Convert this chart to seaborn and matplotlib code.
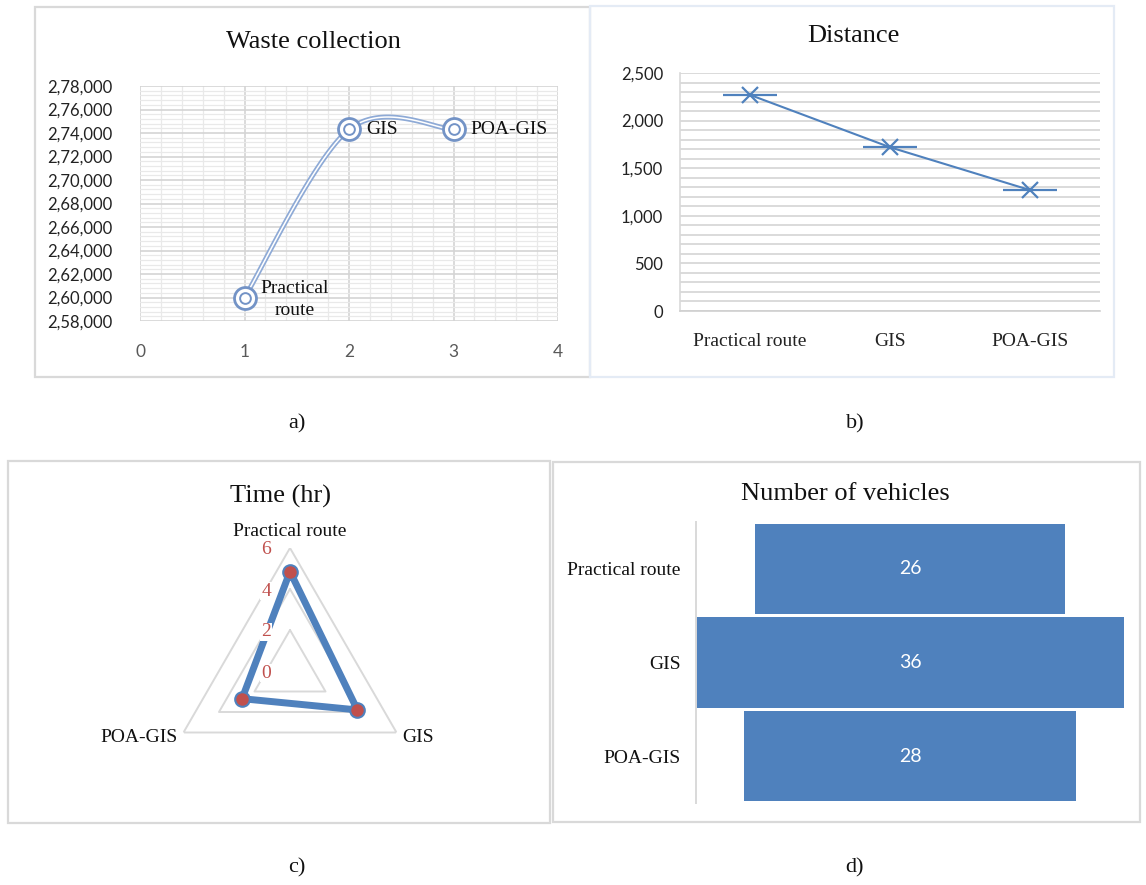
import numpy as np
import pandas as pd
import matplotlib
matplotlib.use("Agg")
import matplotlib.pyplot as plt
from matplotlib.patches import Rectangle
from matplotlib.ticker import MultipleLocator, FuncFormatter
import seaborn as sns

# ---------------- data ----------------
methods = ["Practical route", "GIS", "POA-GIS"]
waste_x = [1, 2, 3]
waste_vals = [260000, 274300, 274300]
waste_labels = ["Practical\nroute", "GIS", "POA-GIS"]
distance_vals = [2270, 1720, 1270]
time_vals = [4.85, 3.8, 2.7]
vehicle_vals = [26, 36, 28]
captions = ["a)", "b)", "c)", "d)"]

sns.set_theme(style="white")
SERIF = "Liberation Serif"
SANS = "Lato"
plt.rcParams["font.family"] = [SERIF, "DejaVu Sans"]

W, H = 1146, 885
fig = plt.figure(figsize=(W / 100, H / 100), dpi=100)
fig.patch.set_facecolor("white")


def fbox(x0, y0, x1, y1):
    """pixel box (top-left origin) -> figure fraction rect"""
    return [x0 / W, 1 - y1 / H, (x1 - x0) / W, (y1 - y0) / H]


def border(x0, y0, x1, y1, color):
    fig.add_artist(Rectangle((x0 / W, 1 - y1 / H), (x1 - x0) / W, (y1 - y0) / H,
                             transform=fig.transFigure, fill=False,
                             edgecolor=color, linewidth=1.6))


BLUE = "#4f81bd"
RED = "#c0504d"

# ---------------- a) Waste collection ----------------
border(35, 7, 590, 377, "#d9d9d9")
axa = fig.add_axes(fbox(140, 86, 558, 321))
axa.set_xlim(0, 4)
axa.set_ylim(258000, 278000)
axa.xaxis.set_major_locator(MultipleLocator(1))
axa.xaxis.set_minor_locator(MultipleLocator(0.2))
axa.yaxis.set_major_locator(MultipleLocator(2000))
axa.yaxis.set_minor_locator(MultipleLocator(400))
axa.grid(which="major", color="#d4d4d4", linewidth=1.2)
axa.grid(which="minor", color="#e9e9e9", linewidth=0.9)
axa.set_axisbelow(True)
for s in axa.spines.values():
    s.set_visible(False)


def indian(v, pos=None):
    s = str(int(round(v)))
    last3, rest = s[-3:], s[:-3]
    groups = []
    while len(rest) > 2:
        groups.insert(0, rest[-2:])
        rest = rest[:-2]
    if rest:
        groups.insert(0, rest)
    return ",".join(groups + [last3])


axa.yaxis.set_major_formatter(FuncFormatter(indian))
axa.tick_params(axis="both", which="both", length=0)
axa.tick_params(axis="y", pad=19.5, labelsize=12, labelcolor="#222222")
axa.tick_params(axis="x", pad=16.5, labelsize=12.5, labelcolor="#595959")
for lab in axa.get_xticklabels() + axa.get_yticklabels():
    lab.set_fontfamily(SANS)

# Excel-style smoothed curve (Bezier with Catmull-Rom control points)
px = np.array(waste_x, float)
py = np.array(waste_vals, float)
n = len(px)
cx, cy = [], []
for i in range(n - 1):
    p0 = (px[max(i - 1, 0)], py[max(i - 1, 0)])
    p1 = (px[i], py[i])
    p2 = (px[i + 1], py[i + 1])
    p3 = (px[min(i + 2, n - 1)], py[min(i + 2, n - 1)])
    c1 = (p1[0] + (p2[0] - p0[0]) / 6, p1[1] + (p2[1] - p0[1]) / 6)
    c2 = (p2[0] - (p3[0] - p1[0]) / 6, p2[1] - (p3[1] - p1[1]) / 6)
    t = np.linspace(0, 1, 60)
    bx = (1 - t) ** 3 * p1[0] + 3 * (1 - t) ** 2 * t * c1[0] + 3 * (1 - t) * t ** 2 * c2[0] + t ** 3 * p2[0]
    by = (1 - t) ** 3 * p1[1] + 3 * (1 - t) ** 2 * t * c1[1] + 3 * (1 - t) * t ** 2 * c2[1] + t ** 3 * p2[1]
    cx.extend(bx)
    cy.extend(by)
curve = pd.DataFrame({"x": cx, "y": cy})
sns.lineplot(data=curve, x="x", y="y", ax=axa, color="#8eaad6", linewidth=3.6,
             sort=False, estimator=None)
sns.lineplot(data=curve, x="x", y="y", ax=axa, color="white", linewidth=1.1,
             sort=False, estimator=None)
dfa = pd.DataFrame({"x": waste_x, "y": waste_vals})
sns.scatterplot(data=dfa, x="x", y="y", ax=axa, s=250, facecolor="white",
                edgecolor="#7393c6", linewidth=2.0, zorder=5)
sns.scatterplot(data=dfa, x="x", y="y", ax=axa, s=60, facecolor="white",
                edgecolor="#7393c6", linewidth=1.4, zorder=6)
for xv, yv, lab in zip(waste_x, waste_vals, waste_labels):
    if "\n" in lab:
        axa.annotate(lab, (xv, yv), xytext=(16, -2), textcoords="offset pixels",
                     ha="left", va="center", fontsize=14, family=SERIF,
                     color="#111111", linespacing=1.4, multialignment="center")
    else:
        axa.annotate(lab, (xv, yv), xytext=(17, 0), textcoords="offset pixels",
                     ha="left", va="center", fontsize=14, family=SERIF, color="#111111")
axa.set_xlabel("")
axa.set_ylabel("")
fig.text(313 / W, 1 - 42 / H, "Waste collection", ha="center", va="center",
         fontsize=19, family=SERIF, color="#111111")

# ---------------- b) Distance ----------------
border(590, 6, 1114, 377, "#e4ebf5")
axb = fig.add_axes(fbox(680, 73, 1100, 311))
dfb = pd.DataFrame({"pos": np.arange(len(methods)), "dist": distance_vals})
axb.set_ylim(0, 2500)
axb.set_xlim(-0.5, len(methods) - 0.5)
axb.yaxis.set_major_locator(MultipleLocator(500))
axb.yaxis.set_minor_locator(MultipleLocator(100))
axb.grid(axis="y", which="both", color="#d4d4d4", linewidth=1.2)
axb.grid(axis="x", which="both", visible=False)
axb.set_axisbelow(True)
sns.lineplot(data=dfb, x="pos", y="dist", ax=axb, color=BLUE, linewidth=1.5,
             marker="x", markersize=12, markeredgewidth=1.6, markeredgecolor=BLUE)
sns.scatterplot(data=dfb, x="pos", y="dist", ax=axb, marker="_", s=1500,
                color=BLUE, linewidth=1.6, zorder=5)
axb.set_xticks(dfb["pos"])
axb.set_xticklabels(methods)
axb.yaxis.set_major_formatter(FuncFormatter(lambda v, p: f"{int(v):,}"))
for k in ["top", "right"]:
    axb.spines[k].set_visible(False)
axb.spines["left"].set_color("#d9d9d9")
axb.spines["bottom"].set_color("#d0d0d0")
axb.spines["left"].set_linewidth(1.2)
axb.spines["bottom"].set_linewidth(1.2)
axb.tick_params(axis="both", which="both", length=0)
axb.tick_params(axis="y", pad=12, labelsize=12, labelcolor="#222222")
axb.tick_params(axis="x", pad=16, labelsize=14, labelcolor="#222222")
for lab in axb.get_yticklabels():
    lab.set_fontfamily(SANS)
for lab in axb.get_xticklabels():
    lab.set_fontfamily(SERIF)
axb.set_xlabel("")
axb.set_ylabel("")
fig.text(853 / W, 1 - 36 / H, "Distance", ha="center", va="center",
         fontsize=19, family=SERIF, color="#111111")

# ---------------- c) Time (hr) radar ----------------
border(8, 461, 550, 823, "#d9d9d9")
R = 123
cxp, cyp = 290, 671
axc = fig.add_axes(fbox(cxp - R, cyp - R, cxp + R, cyp + R), projection="polar")
axc.set_theta_offset(np.pi / 2)
axc.set_theta_direction(-1)
axc.set_ylim(0, 6)
axc.grid(False)
axc.spines["polar"].set_visible(False)
axc.set_xticks([])
axc.set_yticks([])
axc.patch.set_alpha(0)
angles = np.linspace(0, 2 * np.pi, len(methods), endpoint=False)
ang_closed = np.concatenate([angles, angles[:1]])
for r in [2, 4, 6]:
    axc.plot(ang_closed, [r] * len(ang_closed), color="#d9d9d9", linewidth=1.4, zorder=1)
tv = np.array(time_vals + time_vals[:1])
axc.plot(ang_closed, tv, color=BLUE, linewidth=5, zorder=3, solid_joinstyle="round")
axc.plot(angles, time_vals, linestyle="none", marker="o", markersize=10.5,
         markerfacecolor=RED, markeredgecolor=BLUE, markeredgewidth=1.5, zorder=4)
for r in [0, 2, 4, 6]:
    axc.annotate(str(r), (0, r), xytext=(-24, -2), textcoords="offset pixels",
                 ha="center", va="center", fontsize=14, family=SERIF, color=RED,
                 bbox=dict(boxstyle="square,pad=0.05", fc="white", ec="none"), zorder=5,
                 annotation_clip=False)
# category labels
axc.annotate(methods[0], (angles[0], 6), xytext=(0, 8), textcoords="offset pixels",
             ha="center", va="bottom", fontsize=14, family=SERIF, color="#111111",
             annotation_clip=False)
axc.annotate(methods[1], (angles[1], 6), xytext=(6, -5), textcoords="offset pixels",
             ha="left", va="center", fontsize=14, family=SERIF, color="#111111",
             annotation_clip=False)
axc.annotate(methods[2], (angles[2], 6), xytext=(-6, -5), textcoords="offset pixels",
             ha="right", va="center", fontsize=14, family=SERIF, color="#111111",
             annotation_clip=False)
fig.text(280 / W, 1 - 496 / H, "Time (hr)", ha="center", va="center",
         fontsize=19, family=SERIF, color="#111111")

# ---------------- d) Number of vehicles (funnel) ----------------
border(553, 462, 1140, 822, "#d9d9d9")
axd = fig.add_axes(fbox(696, 522, 1124, 803))
ypos = np.arange(len(methods))
vals = np.array(vehicle_vals, float)
axd.barh(ypos, vals, left=-vals / 2, height=0.965, color=BLUE, edgecolor="none")
axd.set_xlim(-max(vals) / 2, max(vals) / 2)
axd.set_ylim(len(methods) - 0.5, -0.5)
axd.set_yticks(ypos)
axd.set_yticklabels(methods)
axd.xaxis.set_visible(False)
for k in ["top", "right", "bottom"]:
    axd.spines[k].set_visible(False)
axd.spines["left"].set_color("#d9d9d9")
axd.spines["left"].set_linewidth(1.4)
axd.tick_params(axis="y", length=0, pad=11, labelsize=14, labelcolor="#111111")
for lab in axd.get_yticklabels():
    lab.set_fontfamily(SERIF)
axd.grid(False)
axd.patch.set_alpha(0)
for yv, v in zip(ypos, vehicle_vals):
    axd.text(0, yv, str(v), ha="center", va="center", color="white",
             fontsize=14, family=SANS)
fig.text(845 / W, 1 - 494 / H, "Number of vehicles", ha="center", va="center",
         fontsize=19, family=SERIF, color="#111111")

# ---------------- captions ----------------
for (x, y), c in zip([(297, 424), (855, 424), (297, 868), (855, 868)], captions):
    fig.text(x / W, 1 - y / H, c, ha="center", va="center", fontsize=16,
             family=SERIF, color="#111111")

fig.savefig("out.png", dpi=100, facecolor="white")
